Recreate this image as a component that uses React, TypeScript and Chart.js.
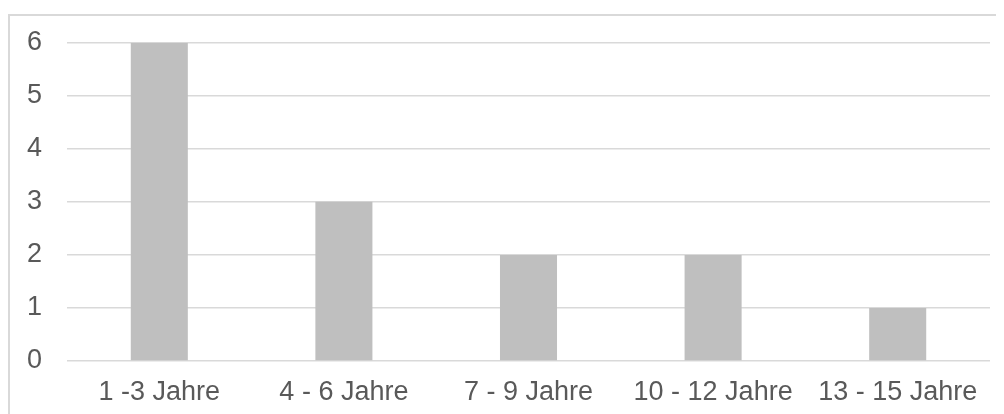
import React, { useEffect, useRef } from "react";
import { Chart, registerables } from "chart.js";

Chart.register(...registerables);

const categories = ["1 -3 Jahre", "4 - 6 Jahre", "7 - 9 Jahre", "10 - 12 Jahre", "13 - 15 Jahre"];
const values = [6, 3, 2, 2, 1];
const yTicks = [0, 1, 2, 3, 4, 5, 6];

export default function App() {
  const ref = useRef<HTMLCanvasElement>(null);
  useEffect(() => {
    if (!ref.current) return;
    const chart = new Chart(ref.current, {
      type: "bar",
      data: {
        labels: categories,
        datasets: [
          {
            data: values,
            backgroundColor: "#bfbfbf",
            borderWidth: 0,
            categoryPercentage: 1,
            barPercentage: 0.309,
          },
        ],
      },
      options: {
        animation: false,
        responsive: true,
        maintainAspectRatio: false,
        layout: { padding: { top: 26.7, right: 14, left: 0, bottom: 0 } },
        plugins: { legend: { display: false }, tooltip: { enabled: false } },
        scales: {
          x: {
            grid: { display: false, drawTicks: false },
            border: { display: false },
            ticks: {
              color: "#595959",
              font: { family: "'Liberation Sans', Arial, sans-serif", size: 27 },
              padding: 15,
              maxRotation: 0,
              autoSkip: false,
            },
            afterFit: (s: any) => {
              s.height = 53;
              s.paddingLeft = 0;
              s.paddingRight = 0;
            },
          },
          y: {
            min: 0,
            max: 6,
            grid: { color: "#d9d9d9", lineWidth: 1.5, drawTicks: false },
            border: { display: false },
            afterBuildTicks: (s: any) => {
              s.ticks = yTicks.map((v) => ({ value: v }));
            },
            ticks: {
              color: "#595959",
              font: { family: "'Liberation Sans', Arial, sans-serif", size: 27 },
              padding: 25,
            },
            afterFit: (s: any) => {
              s.width = 57;
              s.paddingTop = 0;
              s.paddingBottom = 0;
            },
          },
        },
      },
    });
    return () => chart.destroy();
  }, []);
  return (
    <div
      style={{
        marginTop: 6,
        width: 996,
        height: 400,
        borderTop: "2px solid #d9d9d9",
        borderLeft: "2px solid #d9d9d9",
        boxSizing: "border-box",
        position: "relative",
      }}
    >
      <div style={{ position: "absolute", left: 0, top: 0, width: 994, height: 398 }}>
        <canvas ref={ref} />
      </div>
    </div>
  );
}
